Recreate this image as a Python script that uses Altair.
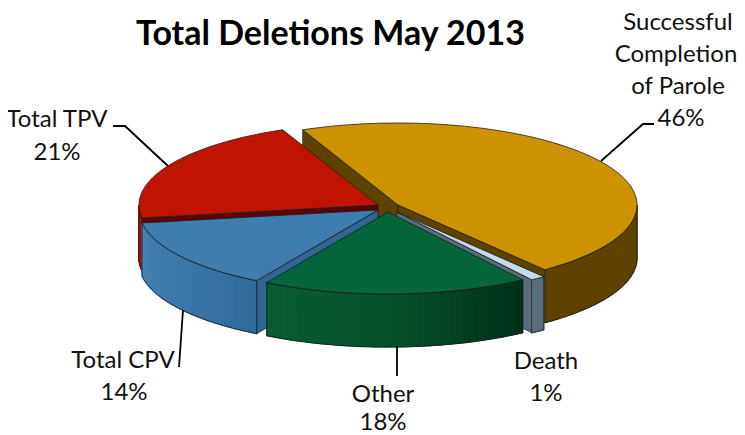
import math
import altair as alt

# ---- chart values
TITLE = "Total Deletions May 2013"
CATEGORIES = ["Successful Completion of Parole", "Death", "Other", "Total CPV", "Total TPV"]
SHARES = [46, 1, 18, 14, 21]

# ---- layout and style (page pixels of the picture, 8px page margin removed below)
MARGIN = 8
A, B, DEPTH = 239, 82, 53
START = -113.5
APEX = [(398, 205), (397, 212), (388, 212), (378, 210), (378, 205)]
TOP = ["#CC9200", "#C3DCEA", "#04663A", "#3E7DAF", "#BE1400"]
CUT = ["#5E4300", "#5B6C7C", "#04502B", "#2F6692", "#5C0402"]
WALL_STOPS = [
    ["#5E4300", "#5E4300"],
    ["#5E7080", "#586978"],
    ["#085C32", "#04502B", "#00301A"],
    ["#4482B3", "#3A78AA", "#2F6A9A"],
    ["#B01300", "#A01000"],
]
LINE = "#1c1c1c"
# which cut faces look towards the viewer: (first edge, last edge)
CUT_VISIBLE = [(True, True), (False, True), (False, False), (True, False), (True, False)]
# painter's order: back slices first
DRAW_ORDER = [0, 4, 3, 1, 2]


def hex2rgb(h):
    return [int(h[i:i + 2], 16) for i in (1, 3, 5)]


def ramp(stops, f):
    p = f * (len(stops) - 1)
    i = min(int(p), len(stops) - 2)
    r = p - i
    c0, c1 = hex2rgb(stops[i]), hex2rgb(stops[i + 1])
    return "#%02x%02x%02x" % tuple(round(u + (v - u) * r) for u, v in zip(c0, c1))


def rim(apex, t):
    r = math.radians(t)
    return (apex[0] + A * math.cos(r) - MARGIN, apex[1] + B * math.sin(r) - MARGIN)


def down(p):
    return (p[0], p[1] + DEPTH)


def feature(ring, fill, stroke, width):
    ring = [list(p) for p in ring]
    ring.append(ring[0])
    return {
        "type": "Feature",
        "properties": {"fill": fill, "stroke": stroke, "sw": width},
        "geometry": {"type": "Polygon", "coordinates": [ring]},
    }


def arc_pts(apex, t0, t1, n=48):
    return [rim(apex, t0 + (t1 - t0) * k / n) for k in range(n + 1)]


spans = []
t = START
for s in SHARES:
    spans.append((t, t + s * 3.6))
    t += s * 3.6

features = []
for i in DRAW_ORDER:
    t0, t1 = spans[i]
    apex = APEX[i]
    c = (apex[0] - MARGIN, apex[1] - MARGIN)
    for edge_t, visible in zip((t0, t1), CUT_VISIBLE[i]):
        if visible:
            e = rim(apex, edge_t)
            features.append(feature([c, e, down(e), down(c)], CUT[i], LINE, 0.7))
    # outer wall: only the front half of the ellipse (0..180 degrees) shows
    segs = [(max(a, 0), min(b, 180)) for a, b in ((t0, t1), (t0 - 360, t1 - 360)) if min(b, 180) > max(a, 0)]
    for w0, w1 in segs:
        n = 24
        for k in range(n):
            a0 = w0 + (w1 - w0) * k / n
            a1 = w0 + (w1 - w0) * (k + 1) / n
            pts = arc_pts(apex, a0, a1, 3)
            col = ramp(WALL_STOPS[i], 1 - (k + 0.5) / n)
            features.append(feature(pts + [down(p) for p in reversed(pts)], col, col, 1.2))
        pts = arc_pts(apex, w0, w1)
        features.append(feature(pts + [down(p) for p in reversed(pts)], "transparent", LINE, 0.8))
    # top face
    features.append(feature([c] + arc_pts(apex, t0, t1, 96), TOP[i], LINE, 0.8))

# leader lines
LEADERS = [
    [(113, 126), (125, 126), (168, 166)],
    [(654, 124), (643, 124), (601, 161)],
    [(183, 310), (179, 367)],
    [(397, 346), (397, 376)],
]
leader_features = [
    {"type": "Feature", "properties": {},
     "geometry": {"type": "LineString",
                  "coordinates": [[x - MARGIN, y - MARGIN] for x, y in pts]}}
    for pts in LEADERS
]

LABELS = [
    ("Successful", 678, 23), ("Completion", 676, 55), ("of Parole", 678, 87), ("46%", 681, 119),
    ("Total TPV", 57, 120), ("21%", 57, 153),
    ("Total CPV", 123, 361), ("14%", 124, 393),
    ("Other", 383, 395), ("18%", 383, 423),
    ("Death", 546, 362), ("1%", 546, 394),
]
label_rows = [{"t": s, "lon": x - MARGIN, "lat": y - MARGIN} for s, x, y in LABELS]

proj = alt.Projection(type="identity", scale=1, translate=[0, 0])

pie = alt.Chart(alt.Data(values=features)).mark_geoshape(filled=True).encode(
    fill=alt.Fill("properties.fill:N", scale=None),
    stroke=alt.Stroke("properties.stroke:N", scale=None),
    strokeWidth=alt.StrokeWidth("properties.sw:Q", scale=None),
).project(**proj.to_dict())

leaders = alt.Chart(alt.Data(values=leader_features)).mark_geoshape(
    filled=False, stroke="#000000", strokeWidth=1.8
).project(**proj.to_dict())

labels = alt.Chart(alt.Data(values=label_rows)).mark_text(
    font="Lato", fontSize=24, color="#111111", align="center", baseline="middle"
).encode(longitude="lon:Q", latitude="lat:Q", text="t:N").project(**proj.to_dict())

chart = alt.layer(pie, leaders, labels).properties(
    width=729, height=427, padding=0,
    autosize=alt.AutoSizeParams(type="none"),
    title=alt.TitleParams(
        TITLE, font="Lato", fontSize=34, fontWeight="bold", color="#000000",
        anchor="middle", frame="group", dx=-42, dy=61, baseline="middle", offset=0,
    ),
).configure_view(stroke=None).configure(background="white")

chart.save("out.html", embed_options={"renderer": "svg", "actions": False})
